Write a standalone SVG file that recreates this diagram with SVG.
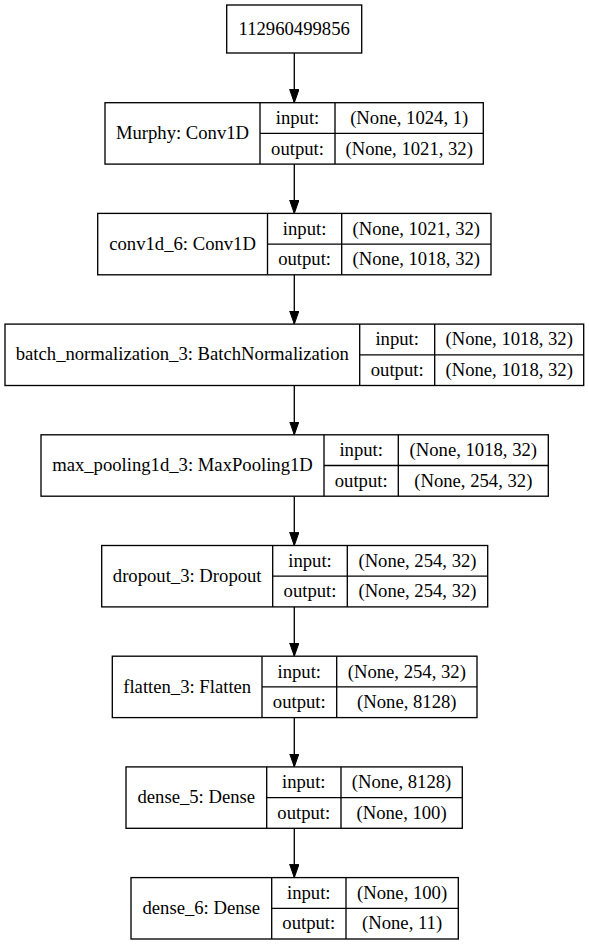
<svg xmlns="http://www.w3.org/2000/svg" width="589" height="945" viewBox="0 0 589 945" font-family="'Liberation Serif', 'DejaVu Serif', serif">
<style>
  .box { fill: #ffffff; stroke: #000000; stroke-width: 1.33; }
  .ln { fill: none; stroke: #000000; stroke-width: 1.33; }
  text { font-family: 'Liberation Serif', 'DejaVu Serif', serif; font-size: 18.67px; fill: #000000; text-anchor: middle; }
  .edge { fill: none; stroke: #000000; stroke-width: 1.33; marker-end: url(#arrow); }
</style>
<defs>
  <marker id="arrow" markerUnits="userSpaceOnUse" markerWidth="14" markerHeight="10" refX="13.3" refY="4.67" orient="auto">
    <path d="M0,0 L13.3,4.67 L0,9.33 z" fill="#000000" stroke="#000000" stroke-width="1"/>
  </marker>
</defs>
<rect width="589" height="945" fill="#ffffff"/>

<g id="connectors">
  <line class="edge" x1="294.3" y1="53" x2="294.3" y2="102.7"/>
  <line class="edge" x1="294.3" y1="164.1" x2="294.3" y2="213.4"/>
  <line class="edge" x1="294.3" y1="274.8" x2="294.3" y2="324.1"/>
  <line class="edge" x1="294.3" y1="385.5" x2="294.3" y2="434.8"/>
  <line class="edge" x1="294.3" y1="496.2" x2="294.3" y2="545.5"/>
  <line class="edge" x1="294.3" y1="606.9" x2="294.3" y2="656.2"/>
  <line class="edge" x1="294.3" y1="717.6" x2="294.3" y2="766.9"/>
  <line class="edge" x1="294.3" y1="828.3" x2="294.3" y2="877.6"/>
</g>

<g id="input_node">
  <rect class="box" x="226.7" y="5" width="135" height="48"/>
  <text x="294.2" y="35">112960499856</text>
</g>

<g id="murphy">
  <rect class="box" x="105" y="102.7" width="378.3" height="61.4"/>
  <line class="ln" x1="260" y1="102.7" x2="260" y2="164.1"/>
  <line class="ln" x1="335" y1="102.7" x2="335" y2="164.1"/>
  <line class="ln" x1="260" y1="133.4" x2="483.3" y2="133.4"/>
  <text x="182.5" y="139">Murphy: Conv1D</text>
  <text x="297.5" y="124">input:</text>
  <text x="297.5" y="154.5">output:</text>
  <text x="409.2" y="124">(None, 1024, 1)</text>
  <text x="409.2" y="154.5">(None, 1021, 32)</text>
</g>

<g id="conv1d_6">
  <rect class="box" x="97.7" y="213.4" width="393.3" height="61.4"/>
  <line class="ln" x1="267.5" y1="213.4" x2="267.5" y2="274.8"/>
  <line class="ln" x1="341.7" y1="213.4" x2="341.7" y2="274.8"/>
  <line class="ln" x1="267.5" y1="244.1" x2="491" y2="244.1"/>
  <text x="182.6" y="249.7">conv1d_6: Conv1D</text>
  <text x="304.6" y="234.7">input:</text>
  <text x="304.6" y="265.2">output:</text>
  <text x="416.3" y="234.7">(None, 1021, 32)</text>
  <text x="416.3" y="265.2">(None, 1018, 32)</text>
</g>

<g id="batch_normalization_3">
  <rect class="box" x="5" y="324.1" width="578.7" height="61.4"/>
  <line class="ln" x1="359.7" y1="324.1" x2="359.7" y2="385.5"/>
  <line class="ln" x1="434.7" y1="324.1" x2="434.7" y2="385.5"/>
  <line class="ln" x1="359.7" y1="354.8" x2="583.7" y2="354.8"/>
  <text x="182.3" y="360.4">batch_normalization_3: BatchNormalization</text>
  <text x="397.2" y="345.4">input:</text>
  <text x="397.2" y="375.9">output:</text>
  <text x="509.2" y="345.4">(None, 1018, 32)</text>
  <text x="509.2" y="375.9">(None, 1018, 32)</text>
</g>

<g id="max_pooling1d_3">
  <rect class="box" x="41" y="434.8" width="507.3" height="61.4"/>
  <line class="ln" x1="324" y1="434.8" x2="324" y2="496.2"/>
  <line class="ln" x1="398.3" y1="434.8" x2="398.3" y2="496.2"/>
  <line class="ln" x1="324" y1="465.5" x2="548.3" y2="465.5"/>
  <text x="182.5" y="471.1">max_pooling1d_3: MaxPooling1D</text>
  <text x="361.2" y="456.1">input:</text>
  <text x="361.2" y="486.6">output:</text>
  <text x="473.3" y="456.1">(None, 1018, 32)</text>
  <text x="473.3" y="486.6">(None, 254, 32)</text>
</g>

<g id="dropout_3">
  <rect class="box" x="101.7" y="545.5" width="386" height="61.4"/>
  <line class="ln" x1="272.7" y1="545.5" x2="272.7" y2="606.9"/>
  <line class="ln" x1="347.3" y1="545.5" x2="347.3" y2="606.9"/>
  <line class="ln" x1="272.7" y1="576.2" x2="487.7" y2="576.2"/>
  <text x="187.2" y="581.8">dropout_3: Dropout</text>
  <text x="310" y="566.8">input:</text>
  <text x="310" y="597.3">output:</text>
  <text x="417.5" y="566.8">(None, 254, 32)</text>
  <text x="417.5" y="597.3">(None, 254, 32)</text>
</g>

<g id="flatten_3">
  <rect class="box" x="112.3" y="656.2" width="364.7" height="61.4"/>
  <line class="ln" x1="262" y1="656.2" x2="262" y2="717.6"/>
  <line class="ln" x1="336.7" y1="656.2" x2="336.7" y2="717.6"/>
  <line class="ln" x1="262" y1="686.9" x2="477" y2="686.9"/>
  <text x="187.2" y="692.5">flatten_3: Flatten</text>
  <text x="299.3" y="677.5">input:</text>
  <text x="299.3" y="708">output:</text>
  <text x="406.8" y="677.5">(None, 254, 32)</text>
  <text x="406.8" y="708">(None, 8128)</text>
</g>

<g id="dense_5">
  <rect class="box" x="126" y="766.9" width="336.3" height="61.4"/>
  <line class="ln" x1="266.7" y1="766.9" x2="266.7" y2="828.3"/>
  <line class="ln" x1="341" y1="766.9" x2="341" y2="828.3"/>
  <line class="ln" x1="266.7" y1="797.6" x2="462.3" y2="797.6"/>
  <text x="196.3" y="803.2">dense_5: Dense</text>
  <text x="303.8" y="788.2">input:</text>
  <text x="303.8" y="818.7">output:</text>
  <text x="401.6" y="788.2">(None, 8128)</text>
  <text x="401.6" y="818.7">(None, 100)</text>
</g>

<g id="dense_6">
  <rect class="box" x="131" y="877.6" width="327.3" height="61.4"/>
  <line class="ln" x1="271.7" y1="877.6" x2="271.7" y2="939"/>
  <line class="ln" x1="346" y1="877.6" x2="346" y2="939"/>
  <line class="ln" x1="271.7" y1="908.3" x2="458.3" y2="908.3"/>
  <text x="201.3" y="913.9">dense_6: Dense</text>
  <text x="308.8" y="898.9">input:</text>
  <text x="308.8" y="929.4">output:</text>
  <text x="402.1" y="898.9">(None, 100)</text>
  <text x="402.1" y="929.4">(None, 11)</text>
</g>
</svg>
